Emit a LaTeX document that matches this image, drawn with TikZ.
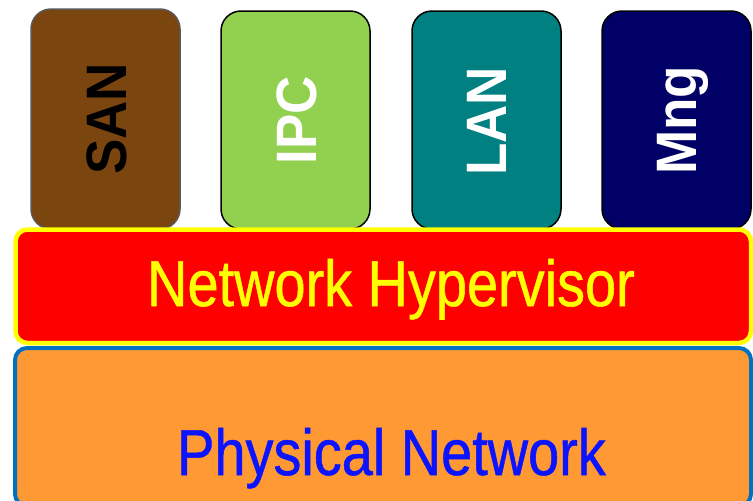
\documentclass[tikz,border=0pt]{standalone}
\usepackage{fontspec}
\setmainfont{Liberation Sans}
\newfontfamily\narrowfont[FakeStretch=0.86,FakeBold=0.8]{Liberation Sans}
\newfontfamily\vfont[FakeStretch=0.93]{Liberation Sans}
\definecolor{sanfill}{RGB}{123,69,15}
\definecolor{sanline}{RGB}{89,89,89}
\definecolor{ipcfill}{RGB}{146,208,80}
\definecolor{lanfill}{RGB}{0,128,128}
\definecolor{mngfill}{RGB}{0,0,102}
\definecolor{hyfill}{RGB}{255,0,0}
\definecolor{hyline}{RGB}{255,255,0}
\definecolor{phfill}{RGB}{255,153,51}
\definecolor{phline}{RGB}{0,112,192}
\definecolor{phtext}{RGB}{12,20,255}
\tikzset{
  svc/.style={draw=black, line width=1.5pt, rounded corners=20pt},
  vlabel/.style={rotate=90, anchor=base, inner sep=0pt, font=\vfont\bfseries\fontsize{57}{60}\selectfont},
  biglabel/.style={anchor=base, inner sep=0pt, font=\narrowfont\fontsize{65}{70}\selectfont},
}
\begin{document}
\begin{tikzpicture}[x=1pt,y=-1pt]
\useasboundingbox (0,0) rectangle (753,501);
\clip (0,0) rectangle (753,501);
% service boxes
\draw[svc, draw=sanline, fill=sanfill] (31,9) rectangle (180,229);
\draw[svc, fill=ipcfill] (221,11) rectangle (370,229);
\draw[svc, fill=lanfill] (412,11) rectangle (561,229);
\draw[svc, fill=mngfill] (602,11) rectangle (751,229);
\node[vlabel, text=black] (san) at (126.5,119) {SAN};
\node[vlabel, text=white] (ipc) at (316,120.5) {IPC};
\node[vlabel, text=white] (lan) at (506.5,121.5) {LAN};
\node[vlabel, text=white] (mng) at (696,120.5) {Mng};
% physical network
\draw[draw=phline, fill=phfill, line width=4pt, rounded corners=12pt] (15,348) rectangle (751,506);
\node[biglabel, text=phtext] (phy) at (391.5,475) {Physical Network};
% hypervisor
\draw[draw=hyline, fill=hyfill, line width=4.5pt, rounded corners=12pt] (15.5,229.5) rectangle (751,343);
\node[biglabel, text=hyline] (hyp) at (391,306) {Network Hypervisor};
\end{tikzpicture}
\end{document}
